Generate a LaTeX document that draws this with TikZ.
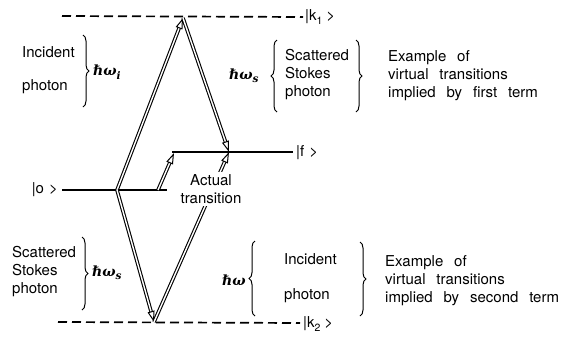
\documentclass[tikz,border=0pt]{standalone}
\usepackage{fontspec}
\setmainfont{TeX Gyre Heros}[WordSpace=2.6]
\newfontfamily\symfont{DejaVu Serif}
\newcommand{\lowsub}[1]{\raisebox{-3.5pt}{\fontsize{10.5}{11}\selectfont #1}}
\usetikzlibrary{arrows.meta,decorations.pathreplacing}
\tikzset{
  txt/.style={font=\fontsize{15}{18}\selectfont, inner sep=0pt, align=left},
  sym/.style={font=\fontsize{14}{18}\selectfont\symfont\bfseries\itshape, inner sep=0pt},
  level/.style={line width=1.2pt},
  virt/.style={line width=1.7pt, dash pattern=on 9pt off 5pt},
  photon/.style={double, double distance=1.4pt, line width=1.1pt,
     -{Triangle[open, length=11pt, width=7pt, line width=1pt]}},
  brc/.style={decorate, decoration={brace, amplitude=6pt}, line width=1pt},
}
\begin{document}
\begin{tikzpicture}[x=1pt,y=-1pt]
\useasboundingbox (0,0) rectangle (563,338);
% level end points
\coordinate (tL) at (62,16);  \coordinate (tR) at (303,17);
\coordinate (bL) at (58,322); \coordinate (bR) at (300,323);
\coordinate (oL) at (62,190); \coordinate (oR) at (167,190);
\coordinate (fL) at (172,152); \coordinate (fR) at (293,152);
% vertices
\coordinate (o1) at (117,190);
\coordinate (top) at (183,18);
\coordinate (bot) at (154,322);
\coordinate (fx) at (229,152);
\coordinate (a1) at (158,190);
\coordinate (a2) at (174,153);
% levels
\draw[virt] (tL) -- (tR);
\draw[virt] (bL) -- (bR);
\draw[level] (oL) -- (oR);
\draw[level] (fL) -- (fR);
\node[txt, anchor=west] (k1) at (305,17) {|k\lowsub{1}\hspace{4pt}>};
\node[txt, anchor=west] (k2) at (303,324) {|k\lowsub{2}\hspace{4pt}>};
\node[txt, anchor=west] (f) at (296,153) {|f\hspace{5pt}>};
\node[txt, anchor=east] (o) at (58,190) {|o\hspace{5pt}>};
% transitions
\draw[photon] (o1) -- (top);
\draw[photon] (top) -- (fx);
\draw[photon] (a1) -- (a2);
\draw[photon] (o1) -- (bot);
\draw[photon] (bot) -- (fx);
\node[txt, align=center, fill=white, inner sep=2pt] (act) at (211,189) {Actual\\transition};
% first term labels
\node[txt, anchor=west] (inc1) at (22,52) {Incident};
\node[txt, anchor=west] (ph1) at (22,87) {photon};
\draw[brc] (83,35) -- (83,107);
\node[sym, anchor=west] (w1) at (93,72) {ℏω\lowsub{i}};
\node[sym, anchor=west] (w2) at (229,76) {ℏω\lowsub{s}};
\draw[brc] (277,112) -- (277,40);
\node[txt, anchor=west] (ss1) at (285,75) {Scattered\\Stokes\\photon};
\draw[brc] (356,40) -- (356,112);
\node[txt, anchor=west] (ex1) at (388,76) {Example of\\virtual transitions\\implied by first term};
% second term labels
\node[txt, anchor=west] (ss2) at (12,272) {Scattered\\Stokes\\photon};
\draw[brc] (82,237) -- (82,310);
\node[sym, anchor=west] (w3) at (92,273) {ℏω\lowsub{s}};
\node[sym, anchor=west] (w4) at (222,280) {ℏω};
\draw[brc] (255,316) -- (255,241);
\node[txt, anchor=west] (inc2) at (284,259) {Incident};
\node[txt, anchor=west] (ph2) at (284,296) {photon};
\draw[brc] (360,242) -- (360,316);
\node[txt, anchor=west] (ex2) at (385,281) {Example of\\virtual transitions\\implied by second term};
\end{tikzpicture}
\end{document}
